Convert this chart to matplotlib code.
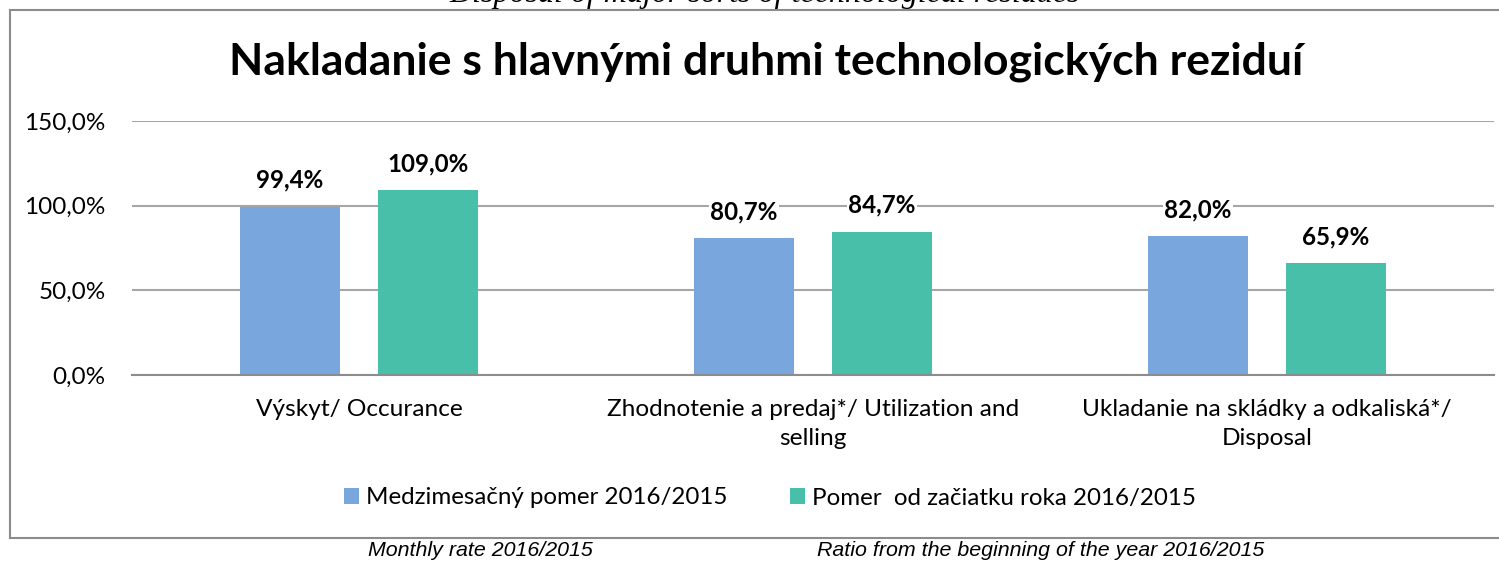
import matplotlib.pyplot as plt
import numpy as np
from matplotlib.lines import Line2D

# Données du graphique
categories = ['Výskyt/ Occurance',
              'Zhodnotenie a predaj*/ Utilization and\nselling',
              'Ukladanie na skládky a odkaliská*/\nDisposal']
monthly = [99.4, 80.7, 82.0]
ytd = [109.0, 84.7, 65.9]
series_names = ['Medzimesačný pomer 2016/2015', 'Pomer  od začiatku roka 2016/2015']
yticks = [0, 50, 100, 150]

title = 'Nakladanie s hlavnými druhmi technologických reziduí'
top_caption = 'Disposal of major sorts of technological residues'
bottom_captions = ['Monthly rate 2016/2015', 'Ratio from the beginning of the year 2016/2015']

c_blue = '#79A7DD'
c_teal = '#48BFA8'
font = ['Lato', 'DejaVu Sans']
W, H = 1499, 561

fig = plt.figure(figsize=(W / 100, H / 100), dpi=100)
ax = fig.add_axes([132 / W, 1 - 375 / H, (1494 - 132) / W, (375 - 121) / H])

x = np.arange(len(categories))
w = 0.22
off = 0.152
b1 = ax.bar(x - off, monthly, w, color=c_blue, label=series_names[0], zorder=3)
b2 = ax.bar(x + off, ytd, w, color=c_teal, label=series_names[1], zorder=3)

# étiquettes de valeurs (fond blanc pour masquer la grille)
for bars, vals in ((b1, monthly), (b2, ytd)):
    for b, v in zip(bars, vals):
        ax.annotate(f'{v:.1f}%'.replace('.', ','), (b.get_x() + b.get_width() / 2, v),
                    xytext=(0, 19), textcoords='offset points', ha='center', va='center',
                    fontsize=17.4, fontweight='bold', family=font, zorder=4,
                    bbox=dict(facecolor='white', edgecolor='none', pad=1))

ax.set_xlim(-0.5, 2.5)
ax.set_ylim(0, 150)
ax.set_yticks(yticks)
ax.set_yticklabels([f'{t:.1f}%'.replace('.', ',') for t in yticks], family=font, fontsize=17.5)
ax.grid(axis='y', color='#A6A6A6', linewidth=1.5, zorder=0)
ax.tick_params(axis='y', length=0, pad=19)
ax.tick_params(axis='x', length=0, pad=17)
ax.set_xticks(x)
ax.set_xticklabels(categories, family=font, fontsize=17.6, linespacing=1.47)
for s in ['top', 'right', 'left']:
    ax.spines[s].set_visible(False)
ax.spines['bottom'].set_color('#8C8C8C')
ax.spines['bottom'].set_linewidth(1.5)
ax.spines['bottom'].set_zorder(5)

fig.text(766 / W, 1 - 75 / H, title, ha='center', va='baseline',
         fontsize=32, fontweight='bold', family=font)
fig.text(765 / W, 1 - 2 / H, top_caption, ha='center', va='baseline',
         fontsize=23, style='italic', family=['Liberation Serif'])

leg = fig.legend(loc='center', bbox_to_anchor=(770 / W, 1 - 498 / H), ncol=2,
                 frameon=False, prop={'family': font, 'size': 17.4},
                 handlelength=0.62, handleheight=0.62, handletextpad=0.3, columnspacing=2.6)

# cadre du graphique (ouvert à droite)
fx0, fy_top, fy_bot = 10 / W, 1 - 9.5 / H, 1 - 538 / H
for xs, ys in (([fx0, fx0], [fy_bot, fy_top]), ([fx0, 1], [fy_top, fy_top]), ([fx0, 1], [fy_bot, fy_bot])):
    fig.add_artist(Line2D(xs, ys, transform=fig.transFigure, color='#8C8C8C', linewidth=1.5))

fig.text(480 / W, 1 - 550 / H, bottom_captions[0], ha='center', va='center',
         fontsize=15.4, style='italic', family=['Liberation Sans Narrow', 'Liberation Sans'])
fig.text(1041 / W, 1 - 550 / H, bottom_captions[1], ha='center', va='center',
         fontsize=15.4, style='italic', family=['Liberation Sans Narrow', 'Liberation Sans'])

fig.savefig('out.png', dpi=100)
